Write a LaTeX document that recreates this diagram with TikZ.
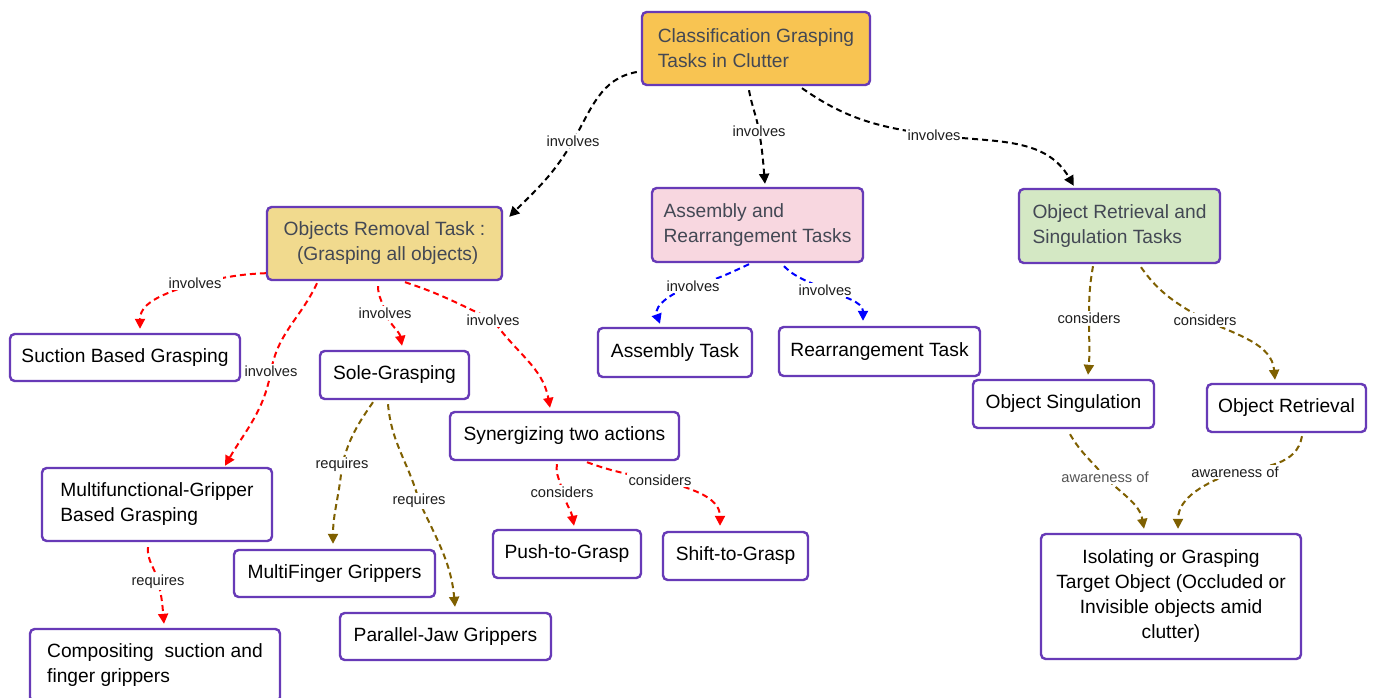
\documentclass[tikz,border=0pt]{standalone}
\usepackage{fontspec}
\setmainfont{Liberation Sans}
\usetikzlibrary{arrows.meta}
\definecolor{purp}{RGB}{103,58,183}
\definecolor{topfill}{RGB}{248,196,82}
\definecolor{ormfill}{RGB}{241,218,142}
\definecolor{asmfill}{RGB}{248,215,224}
\definecolor{orsfill}{RGB}{212,232,196}
\definecolor{hdrtext}{RGB}{67,72,84}
\definecolor{brn}{RGB}{127,96,0}
\definecolor{lbltext}{RGB}{30,30,30}
\definecolor{graytext}{RGB}{85,85,85}
\begin{document}
\begin{tikzpicture}[x=0.75pt,y=0.75pt,
  box/.style={draw=purp, line width=1.8pt, rounded corners=3.5pt, fill=white,
    font=\fontsize{14.4}{18.75}\selectfont, inner sep=0pt, text=black},
  hdr/.style={box, text=hdrtext, align=left},
  lbl/.style={fill=white, inner sep=1pt, font=\fontsize{11}{13}\selectfont, text=lbltext},
  edgebase/.style={line width=1.5pt, dash pattern=on 4.5pt off 3pt, -{Triangle[length=7.5pt,width=7.5pt]}},
  blkE/.style={edgebase, draw=black},
  redE/.style={edgebase, draw=red, -{Triangle[length=7.5pt,width=7.5pt,fill=red]}},
  bluE/.style={edgebase, draw=blue},
  brnE/.style={edgebase, draw=brn}]
\useasboundingbox (0,0) rectangle (1373,-698);
\fill[white] (0,0) rectangle (1373,-698);

% header boxes
\node[hdr, fill=topfill, minimum width=171pt, minimum height=54.75pt] (top) at (756,-48.5) {Classification Grasping\\Tasks in Clutter};
\node[hdr, fill=ormfill, minimum width=176.25pt, minimum height=54.75pt] (orm) at (384.5,-243.5) {Objects Removal Task :\\\hspace*{10pt}(Grasping all objects)};
\node[hdr, fill=asmfill, minimum width=158.25pt, minimum height=55.5pt] (asm) at (757.5,-225) {Assembly and\\Rearrangement Tasks};
\node[hdr, fill=orsfill, minimum width=150.75pt, minimum height=55.5pt] (ors) at (1119.5,-226) {Object Retrieval and\\Singulation Tasks};

% leaf boxes
\node[box, minimum width=172.5pt, minimum height=35.25pt] (suc) at (125,-357.5) {Suction Based Grasping};
\node[box, minimum width=111.75pt, minimum height=36pt] (sole) at (394.5,-375) {Sole-Grasping};
\node[box, minimum width=171.75pt, minimum height=36pt] (syn) at (564.5,-436) {Synergizing two actions};
\node[box, align=left, minimum width=172.5pt, minimum height=54.75pt] (mfg) at (157,-504.5) {Multifunctional-Gripper\\Based Grasping};
\node[box, minimum width=150.75pt, minimum height=35.25pt] (mfinger) at (334.5,-573.5) {MultiFinger Grippers};
\node[box, minimum width=158.25pt, minimum height=35.25pt] (pjaw) at (445.5,-636.5) {Parallel-Jaw Grippers};
\node[box, align=left, minimum width=187.5pt, minimum height=54.75pt] (comp) at (155,-665.5) {Compositing\ \ suction and\\finger grippers};
\node[box, minimum width=111pt, minimum height=36pt] (push) at (567,-554) {Push-to-Grasp};
\node[box, minimum width=108.75pt, minimum height=36pt] (shiftg) at (735.5,-556) {Shift-to-Grasp};
\node[box, minimum width=115.5pt, minimum height=36.75pt] (asmt) at (675,-352.5) {Assembly Task};
\node[box, minimum width=150.75pt, minimum height=36.75pt] (rear) at (879.5,-351.5) {Rearrangement Task};
\node[box, minimum width=135.75pt, minimum height=36pt] (sing) at (1063.5,-404) {Object Singulation};
\node[box, minimum width=119.25pt, minimum height=36pt] (retr) at (1286.5,-408) {Object Retrieval};
\node[box, align=center, minimum width=195pt, minimum height=93.75pt] (iso) at (1171,-596.5) {Isolating or Grasping\\Target Object (Occluded or\\Invisible objects amid\\clutter)};

% connectors from the top box
\draw[blkE] ([shift={(-4,-23.5)}]top.west) to[out=190,in=60] (573,-141) node[lbl] (l1) {involves} to[out=240,in=45] ([shift={(6,-11)}]orm.north east);
\draw[blkE] ([shift={(-7,-4)}]top.south) to[out=-80,in=100] (759,-131) node[lbl] (l2) {involves} to[out=-80,in=95] ([shift={(7.5,3)}]asm.north);
\draw[blkE] ([shift={(46,-2)}]top.south) to[out=-35,in=172] (934,-135) node[lbl] (l3) {involves} to[out=-8,in=120] ([shift={(56,2)}]ors.north west);

% from objects removal
\draw[redE] ([shift={(0,8)}]orm.south west) to[out=182,in=10] (195,-283) node[lbl] (l4) {involves} to[out=200,in=90] ([shift={(15,4)}]suc.north);
\draw[redE] ([shift={(-67.5,-2)}]orm.south) to[out=245,in=80] (271,-371) node[lbl] (l5) {involves} to[out=260,in=60] ([shift={(68,1)}]mfg.north);
\draw[redE] ([shift={(-6.5,-5)}]orm.south) to[out=-90,in=100] (385,-313) node[lbl] (l6) {involves} to[out=-65,in=100] ([shift={(7.5,4)}]sole.north);
\draw[redE] ([shift={(20.5,-1)}]orm.south) to[out=-18,in=155] (493,-320) node[lbl] (l7) {involves} to[out=-55,in=100] ([shift={(-14.5,3)}]syn.north);

% from assembly
\draw[bluE] ([shift={(-8.5,-1)}]asm.south) to[out=205,in=15] (693,-286) node[lbl] (l8) {involves} to[out=195,in=110] ([shift={(-15,3)}]asmt.north);
\draw[bluE] ([shift={(26.5,-3)}]asm.south) to[out=-45,in=150] (825,-290) node[lbl] (l9) {involves} to[out=-20,in=90] ([shift={(-16.5,5)}]rear.north);

% from retrieval and singulation
\draw[brnE] ([shift={(-26.5,-2)}]ors.south) to[out=-100,in=90] (1089,-318) node[lbl] (l10) {considers} to[out=-90,in=85] ([shift={(24.5,4)}]sing.north);
\draw[brnE] ([shift={(21.5,-3)}]ors.south) to[out=-55,in=150] (1205,-320) node[lbl] (l11) {considers} to[out=-25,in=95] ([shift={(-11.5,3)}]retr.north);

% from sole grasping
\draw[brnE] ([shift={(-21.5,-2)}]sole.south) to[out=-125,in=75] (342,-465) node[lbl] (l12) {requires} to[out=-95,in=90] ([shift={(-1.5,5)}]mfinger.north);
\draw[brnE] ([shift={(-6.5,-4)}]sole.south) to[out=-85,in=105] (419,-501) node[lbl] (l13) {requires} to[out=-65,in=95] ([shift={(9.5,5)}]pjaw.north);

% from synergizing
\draw[redE] ([shift={(-7.5,-3)}]syn.south) to[out=-100,in=95] (562,-492) node[lbl] (l14) {considers} to[out=-70,in=100] ([shift={(7,3)}]push.north);
\draw[redE] ([shift={(22.5,-1)}]syn.south) to[out=-20,in=170] (660,-480) node[lbl] (l15) {considers} to[out=-15,in=90] ([shift={(-15.5,5)}]shiftg.north);

% from multifunctional
\draw[redE] ([shift={(-9,-5)}]mfg.south) to[out=-95,in=100] (158,-582) node[lbl] (l16) {requires} to[out=-75,in=95] ([shift={(9,4)}]comp.north);

% awareness of
\draw[brnE] ([shift={(6.5,-5)}]sing.south) to[out=-60,in=130] (1105,-477) node[lbl, text=graytext] (l17) {awareness of} to[out=-45,in=100] ([shift={(-27,4)}]iso.north);
\draw[brnE] ([shift={(15.5,-3)}]retr.south) to[out=-100,in=10] (1235,-472) node[lbl] (l18) {awareness of} to[out=200,in=90] ([shift={(7,4)}]iso.north);
\end{tikzpicture}
\end{document}
